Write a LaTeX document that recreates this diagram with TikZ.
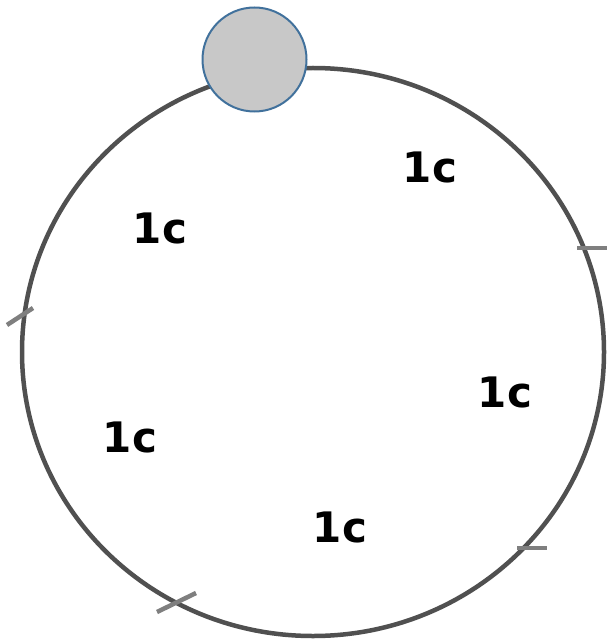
\documentclass[tikz,border=0pt]{standalone}
\usepackage{fontspec}
\setmainfont{DejaVu Sans}
\usetikzlibrary{shapes.geometric}
\begin{document}
\begin{tikzpicture}[x=1pt,y=-1pt,
  ring/.style={draw=ringgray,line width=4.5pt},
  tickmark/.style={draw=tickgray,line width=4.5pt},
  lbl/.style={font=\fontsize{42}{42}\selectfont\bfseries,inner sep=0pt},
  bead/.style={circle,draw=beadblue,fill=beadfill,line width=2pt,minimum size=104pt,inner sep=0pt}]
\definecolor{ringgray}{HTML}{505050}
\definecolor{tickgray}{HTML}{7F7F7F}
\definecolor{beadblue}{HTML}{41719C}
\definecolor{beadfill}{HTML}{C8C8C8}
\useasboundingbox (0,0) rectangle (607,639);
\node[ring,ellipse,minimum width=582pt,minimum height=568pt,inner sep=0pt] (ringn) at (313,352) {};
\coordinate (t1a) at (577,248); \coordinate (t1b) at (607,248);
\coordinate (t2a) at (7,325); \coordinate (t2b) at (33,308);
\coordinate (t3a) at (517,548); \coordinate (t3b) at (547,548);
\coordinate (t4a) at (157,612); \coordinate (t4b) at (196,593);
\draw[tickmark] (t1a) -- (t1b);
\draw[tickmark] (t2a) -- (t2b);
\draw[tickmark] (t3a) -- (t3b);
\draw[tickmark] (t4a) -- (t4b);
\node[bead] (b) at (254.5,59.5) {};
\node[lbl] (l1) at (430,167) {1c};
\node[lbl] (l2) at (160,228) {1c};
\node[lbl] (l3) at (505,392) {1c};
\node[lbl] (l4) at (130,437) {1c};
\node[lbl] (l5) at (340,527) {1c};
\end{tikzpicture}
\end{document}
